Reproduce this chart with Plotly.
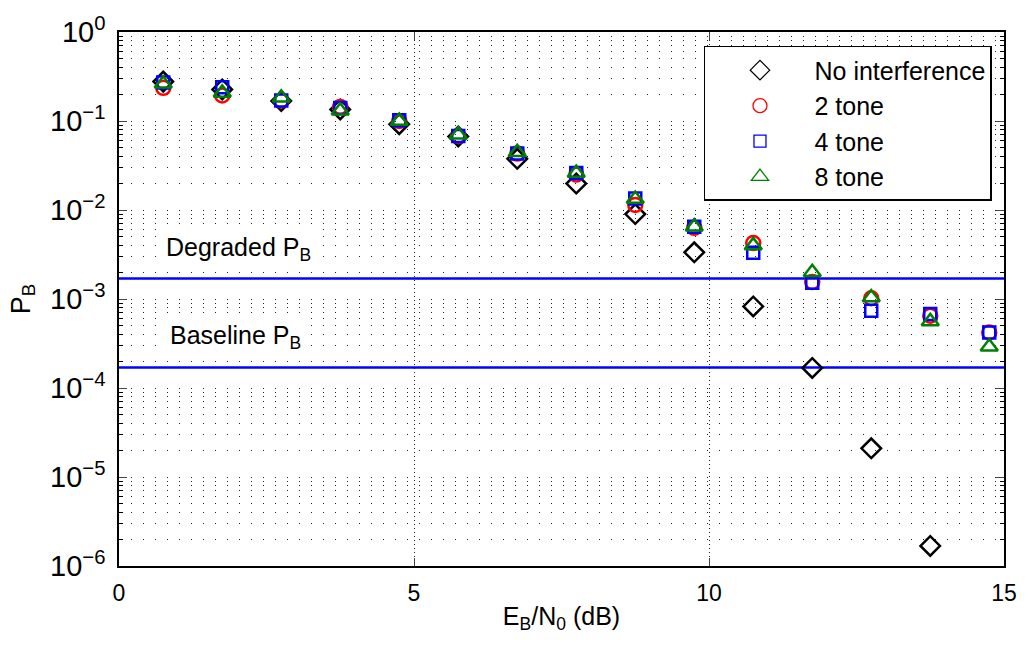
import plotly.graph_objects as go
import math

# ---- data ----
ebn0 = [0.75, 1.75, 2.75, 3.75, 4.75, 5.75, 6.75, 7.75, 8.75, 9.75, 10.75, 11.75, 12.75, 13.75, 14.75]
pb_none = [0.277, 0.226, 0.168, 0.135, 0.092, 0.067, 0.0376, 0.0198, 0.0090, 0.00335, 8.25e-4, 1.68e-4, 2.1e-5, 1.68e-6]
pb_2tone = [0.236, 0.194, 0.170, 0.144, 0.100, 0.068, 0.043, 0.025, 0.0114, 0.0063, 0.00425, 1.55e-3, 1.02e-3, 6.5e-4, 4.2e-4]
pb_4tone = [0.270, 0.240, 0.170, 0.140, 0.102, 0.068, 0.043, 0.026, 0.0135, 0.0065, 0.0033, 1.52e-3, 7.4e-4, 6.8e-4, 4.2e-4]
pb_8tone = [0.262, 0.207, 0.182, 0.130, 0.100, 0.070, 0.0446, 0.026, 0.0133, 0.0065, 0.0040, 2.0e-3, 1.04e-3, 5.6e-4, 2.9e-4]
degraded_pb = 1.7e-3
baseline_pb = 1.7e-4

series = [
    ("No interference", pb_none, "black", "diamond-open", 15),
    ("2 tone", pb_2tone, "red", "circle-open", 14),
    ("4 tone", pb_4tone, "blue", "square-open", 12),
    ("8 tone", pb_8tone, "green", "triangle-up-open", 15),
]

FONT = "Liberation Sans, Arial, sans-serif"

fig = go.Figure()

# threshold lines
for val in (degraded_pb, baseline_pb):
    fig.add_trace(go.Scatter(x=[0, 15], y=[val, val], mode="lines",
                             line=dict(color="#0000ff", width=2.5),
                             showlegend=False, hoverinfo="skip"))

for name, vals, color, sym, size in series:
    fig.add_trace(go.Scatter(x=ebn0[:len(vals)], y=vals, mode="markers", name=name,
                             marker=dict(symbol=sym, size=size, color=color,
                                         line=dict(color=color, width=2.5)),
                             showlegend=False))
# legend entries (thin markers)
for i, (name, vals, color, sym, size) in enumerate(series):
    fig.add_trace(go.Scatter(x=[None], y=[None], mode="markers", name=name,
                             marker=dict(symbol=sym, size=size, color=color,
                                         line=dict(color=color, width=1.3))))

yt = [10.0 ** e for e in range(-6, 1)]
ytext = ["10<sup>%s</sup>" % (str(e).replace("-", "\u2212")) for e in range(-6, 1)]
minor_vals = [m * 10.0 ** e for e in range(-6, 0) for m in range(2, 10)]

fig.add_annotation(x=2.02, y=math.log10(3.65e-3), text="Degraded P<sub>B</sub>", showarrow=False,
                   font=dict(size=25, color="black", family=FONT), bgcolor="white", borderpad=4)
fig.add_annotation(x=1.98, y=math.log10(3.7e-4), text="Baseline P<sub>B</sub>", showarrow=False,
                   font=dict(size=25, color="black", family=FONT), bgcolor="white", borderpad=4)

fig.update_layout(
    width=1029, height=646,
    margin=dict(l=119, r=18, t=27, b=80),
    paper_bgcolor="white", plot_bgcolor="white",
    font=dict(family=FONT, size=24, color="black"),
    legend=dict(x=0.661, y=0.974, xanchor="left", yanchor="top",
                bgcolor="white", bordercolor="black", borderwidth=1.5,
                font=dict(size=25, family=FONT), itemwidth=99),
    xaxis=dict(range=[0, 15], tickvals=[0, 5, 10, 15], ticks="inside", ticklen=8,
               showline=True, linecolor="black", linewidth=1.5, mirror="ticks",
               showgrid=True, gridcolor="#222", griddash="1px,3px", gridwidth=1,
               zeroline=False, tickfont=dict(size=23), ticklabelstandoff=6,
               title=dict(text="E<sub>B</sub>/N<sub>0</sub> (dB)", font=dict(size=25), standoff=2)),
    yaxis=dict(type="log", range=[-6, 0], tickvals=yt, ticktext=ytext,
               ticks="inside", ticklen=8,
               showline=True, linecolor="black", linewidth=1.5, mirror="ticks",
               showgrid=True, gridcolor="#222", griddash="1px,11px", gridwidth=1,
               zeroline=False, tickfont=dict(size=29), ticklabelstandoff=6,
               minor=dict(tickvals=minor_vals, ticks="inside", ticklen=4, tickcolor="black",
                          showgrid=True, gridcolor="#222", griddash="1px,11px", gridwidth=1),
               title=dict(text="P<sub>B</sub>", font=dict(size=27), standoff=12)),
)

fig.write_html("out.html", config={"displayModeBar": False},
               post_script="document.body.style.margin='0';")
